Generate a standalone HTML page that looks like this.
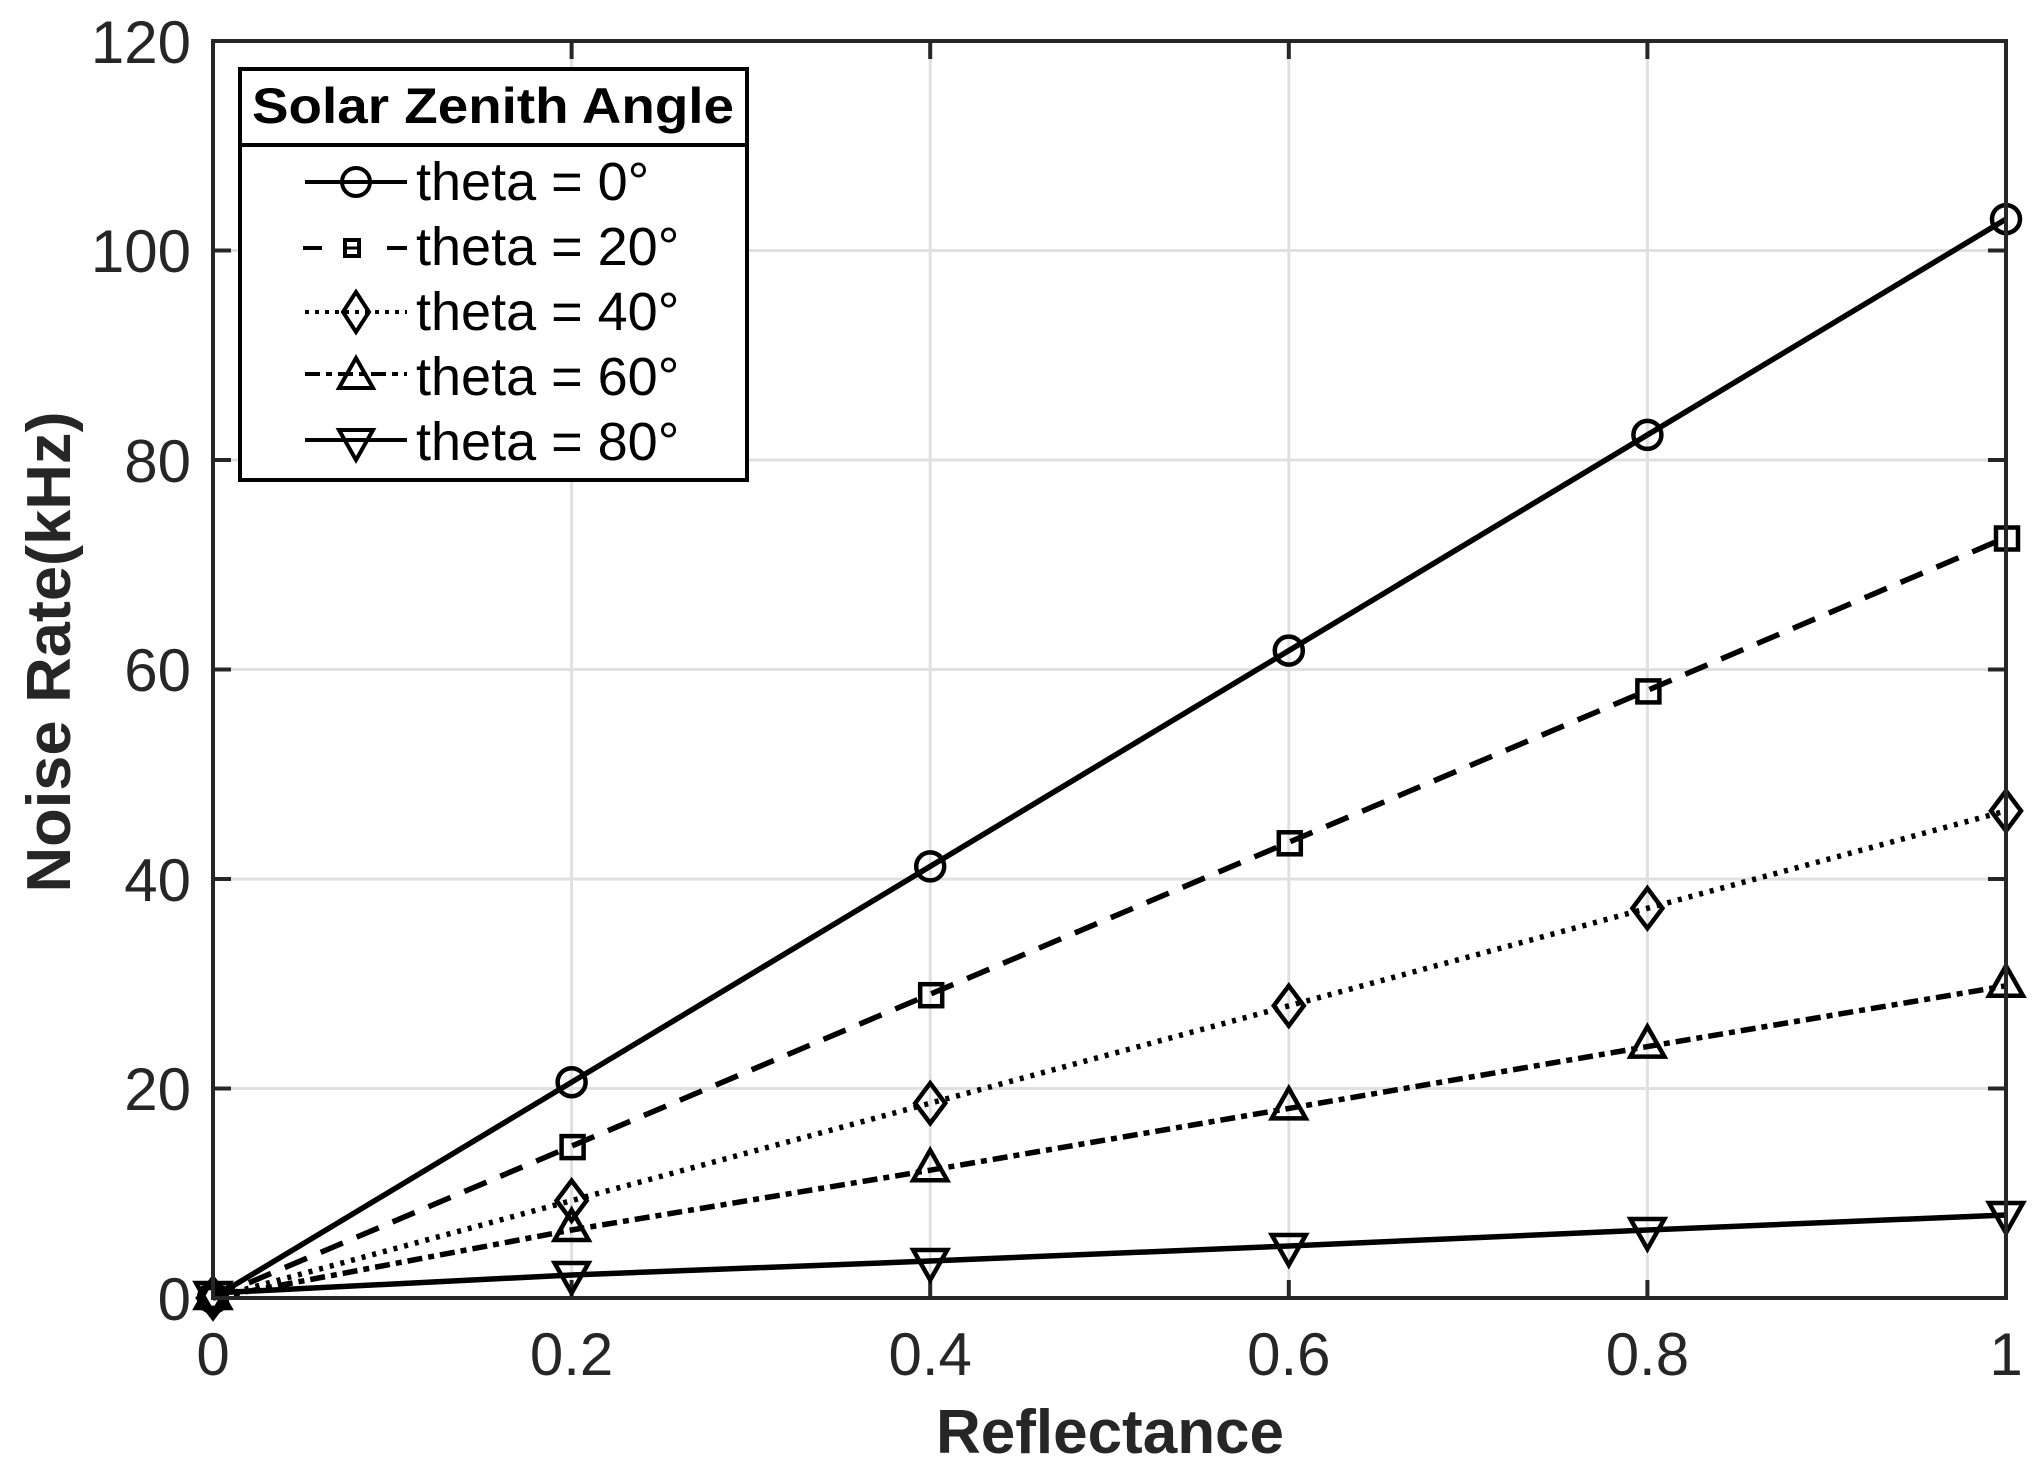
<!DOCTYPE html>
<html><head><meta charset="utf-8"><style>
html,body{margin:0;padding:0;background:#fff;}
svg{display:block;}
text{font-family:"Liberation Sans",Arial,sans-serif;fill:#262626;}
</style></head><body>
<svg width="2032" height="1468" viewBox="0 0 2032 1468" xmlns="http://www.w3.org/2000/svg">
<rect width="2032" height="1468" fill="#fff"/>
<g stroke="#e0e0e0" stroke-width="3">
<line x1="571.6" y1="41" x2="571.6" y2="1298"/>
<line x1="930.2" y1="41" x2="930.2" y2="1298"/>
<line x1="1288.8" y1="41" x2="1288.8" y2="1298"/>
<line x1="1647.4" y1="41" x2="1647.4" y2="1298"/>
<line x1="213" y1="1088.5" x2="2006" y2="1088.5"/>
<line x1="213" y1="879" x2="2006" y2="879"/>
<line x1="213" y1="669.5" x2="2006" y2="669.5"/>
<line x1="213" y1="460" x2="2006" y2="460"/>
<line x1="213" y1="250.5" x2="2006" y2="250.5"/>
</g>
<g stroke="#262626" stroke-width="4">
<line x1="571.6" y1="1298" x2="571.6" y2="1280"/><line x1="571.6" y1="41" x2="571.6" y2="59"/>
<line x1="930.2" y1="1298" x2="930.2" y2="1280"/><line x1="930.2" y1="41" x2="930.2" y2="59"/>
<line x1="1288.8" y1="1298" x2="1288.8" y2="1280"/><line x1="1288.8" y1="41" x2="1288.8" y2="59"/>
<line x1="1647.4" y1="1298" x2="1647.4" y2="1280"/><line x1="1647.4" y1="41" x2="1647.4" y2="59"/>
<line x1="213" y1="1088.5" x2="231" y2="1088.5"/><line x1="2006" y1="1088.5" x2="1988" y2="1088.5"/>
<line x1="213" y1="879" x2="231" y2="879"/><line x1="2006" y1="879" x2="1988" y2="879"/>
<line x1="213" y1="669.5" x2="231" y2="669.5"/><line x1="2006" y1="669.5" x2="1988" y2="669.5"/>
<line x1="213" y1="460" x2="231" y2="460"/><line x1="2006" y1="460" x2="1988" y2="460"/>
<line x1="213" y1="250.5" x2="231" y2="250.5"/><line x1="2006" y1="250.5" x2="1988" y2="250.5"/>
</g>
<g fill="none" stroke="#000" stroke-width="5.5">
<polyline points="213,1298 571.6,1082.2 930.2,866.4 1288.8,650.6 1647.4,434.9 2006,219.1"/>
<polyline stroke-dasharray="24 15" points="213,1298 571.6,1146.1 930.2,994.2 1288.8,842.3 1647.4,690.4 2006,537.5"/>
<polyline stroke-dasharray="4 7" points="213,1298 571.6,1200.6 930.2,1103.2 1288.8,1005.8 1647.4,908.3 2006,810.9"/>
<polyline stroke-dasharray="15 6 6 6" points="213,1298 571.6,1230 930.2,1170.2 1288.8,1108.4 1647.4,1046.6 2006,985.8"/>
<polyline points="213,1293 571.6,1275 930.2,1261 1288.8,1246 1647.4,1230 2006,1215"/>
</g>
<g fill="none" stroke="#000" stroke-width="4.5">
<circle cx="213" cy="1298" r="14"/><circle cx="571.6" cy="1082.2" r="14"/><circle cx="930.2" cy="866.4" r="14"/><circle cx="1288.8" cy="650.6" r="14"/><circle cx="1647.4" cy="434.9" r="14"/><circle cx="2006" cy="219.1" r="14"/>
<rect x="203" y="1288" width="20" height="20"/><rect x="561.6" y="1136.1" width="22" height="22"/><rect x="920.2" y="984.2" width="22" height="22"/><rect x="1278.8" y="832.3" width="22" height="22"/><rect x="1637.4" y="680.4" width="22" height="22"/><rect x="1996" y="527.5" width="22" height="22"/>
<path d="M213,1278 l15,20 l-15,20 l-15,-20z M571.6,1180.6 l15,20 l-15,20 l-15,-20z M930.2,1083.2 l15,20 l-15,20 l-15,-20z M1288.8,985.8 l15,20 l-15,20 l-15,-20z M1647.4,888.3 l15,20 l-15,20 l-15,-20z M2006,790.9 l15,20 l-15,20 l-15,-20z"/>
<path d="M213,1278 l17,30 l-34,0z M571.6,1210 l17,30 l-34,0z M930.2,1150.2 l17,30 l-34,0z M1288.8,1088.4 l17,30 l-34,0z M1647.4,1026.6 l17,30 l-34,0z M2006,965.8 l17,30 l-34,0z"/>
<path d="M213,1313 l17,-30 l-34,0z M571.6,1293 l17,-30 l-34,0z M930.2,1280 l17,-30 l-34,0z M1288.8,1265 l17,-30 l-34,0z M1647.4,1249 l17,-30 l-34,0z M2006,1233 l17,-30 l-34,0z"/>
</g>
<rect x="213" y="41" width="1793" height="1257" fill="none" stroke="#262626" stroke-width="4"/>
<g font-size="60" text-anchor="middle">
<text x="213" y="1375">0</text>
<text x="571.6" y="1375">0.2</text>
<text x="930.2" y="1375">0.4</text>
<text x="1288.8" y="1375">0.6</text>
<text x="1647.4" y="1375">0.8</text>
<text x="2006" y="1375">1</text>
</g>
<g font-size="60" text-anchor="end">
<text x="191" y="1320">0</text>
<text x="191" y="1110">20</text>
<text x="191" y="901">40</text>
<text x="191" y="691">60</text>
<text x="191" y="482">80</text>
<text x="191" y="272">100</text>
<text x="191" y="63">120</text>
</g>
<text x="1110" y="1453" font-size="62" font-weight="bold" text-anchor="middle">Reflectance</text>
<text transform="translate(70,652) rotate(-90)" font-size="62" font-weight="bold" text-anchor="middle" textLength="481" lengthAdjust="spacingAndGlyphs">Noise Rate(kHz)</text>
<rect x="240" y="69" width="507" height="411" fill="#fff" stroke="#000" stroke-width="4"/>
<line x1="240" y1="145" x2="747" y2="145" stroke="#000" stroke-width="4"/>
<text x="493" y="123" font-size="50" font-weight="bold" text-anchor="middle" textLength="482" lengthAdjust="spacingAndGlyphs" style="fill:#000">Solar Zenith Angle</text>
<g fill="none" stroke="#000" stroke-width="4">
<line x1="305" y1="182" x2="407" y2="182"/><circle cx="356" cy="182" r="14"/>
<line x1="303" y1="248" x2="322" y2="248"/><line x1="387" y1="248" x2="407" y2="248"/><rect x="345" y="240" width="14" height="16"/><line x1="345" y1="248" x2="359" y2="248" stroke-width="3"/>
<line x1="305" y1="312" x2="407" y2="312" stroke-dasharray="4 6"/><path d="M356,292 l13,20 l-13,20 l-13,-20z"/>
<line x1="305" y1="374" x2="407" y2="374" stroke-dasharray="15 6 6 6"/><path d="M356,358 l17,30 l-34,0z"/>
<line x1="305" y1="440" x2="407" y2="440"/><path d="M356,460 l17,-30 l-34,0z"/>
</g>
<g font-size="54">
<text x="416" y="200" style="fill:#000">theta = 0°</text>
<text x="416" y="265" style="fill:#000">theta = 20°</text>
<text x="416" y="330" style="fill:#000">theta = 40°</text>
<text x="416" y="395" style="fill:#000">theta = 60°</text>
<text x="416" y="460" style="fill:#000">theta = 80°</text>
</g>
</svg>
</body></html>
